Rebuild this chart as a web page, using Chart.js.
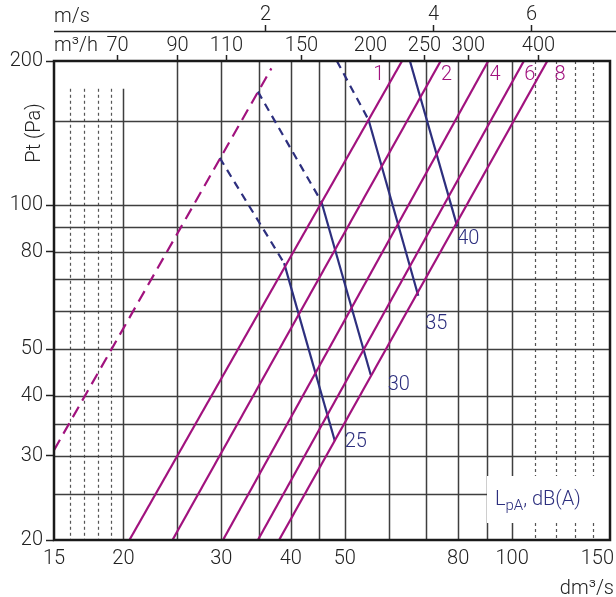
<!DOCTYPE html>
<html>
<head>
<meta charset="utf-8">
<script src="https://cdn.jsdelivr.net/npm/chart.js@4.4.1/dist/chart.umd.min.js"></script>
<style>
html, body { margin: 0; padding: 0; background: #fff; }
</style>
</head>
<body>
<canvas id="myChart" width="616" height="597"></canvas>
<script>
// values (x = dm3/s, y = Pa)
var damperSettings = ['1', '2', '4', '6', '8'];
var flowAt20Pa = [20.5, 24.5, 30.2, 34.9, 38.1];
var flowAt200Pa = [63.4, 74.4, 90.6, 105, 115.7];

var limitFlow = [15, 36.9];
var limitPressure = [30.8, 193];

var soundLevels = [25, 30, 35, 40];
var soundStartFlow = [29.8, 34.9, 48.4, 65.5];
var soundStartPt = [125.5, 172.6, 200, 200];
var soundKneeFlow = [38.9, 45.4, 55.2, 65.5];
var soundKneePt = [75.7, 101.7, 150.6, 200];
var soundEndFlow = [48.0, 55.7, 67.8, 79.7];
var soundEndPt = [32.2, 44.2, 64.7, 90.2];

var xTicks = [15, 20, 30, 40, 50, 80, 100, 150];
var yTicks = [20, 30, 40, 50, 80, 100, 200];
var xGridSolid = [25, 30, 35, 40, 45, 50, 60, 70, 80, 90, 100];
var xGridShort = [20];
var xGridDotShort = [16, 17, 18, 19];
var xGridDot = [110, 120, 130, 140];
var yGrid = [25, 30, 35, 40, 50, 60, 70, 80, 90, 100, 150];
var m3hTicks = [70, 90, 110, 150, 200, 250, 300, 400];
var msTicks = [2, 4, 6];

var magenta = '#a1127e';
var navy = '#2d2f7e';
var FONT = 'Roboto, "DejaVu Sans", sans-serif';

function seg(x1, y1, x2, y2) {
  return [{ x: x1, y: y1 }, { x: x2, y: y2 }];
}

var datasets = [];
damperSettings.forEach(function (s, i) {
  datasets.push({
    label: s,
    data: seg(flowAt20Pa[i], 20, flowAt200Pa[i], 200),
    borderColor: magenta,
    borderWidth: 2.2
  });
});
datasets.push({
  label: 'limit',
  data: seg(limitFlow[0], limitPressure[0], limitFlow[1], limitPressure[1]),
  borderColor: magenta,
  borderWidth: 2.2,
  borderDash: [12, 7]
});
soundLevels.forEach(function (l, i) {
  if (soundKneeFlow[i] !== soundStartFlow[i]) {
    datasets.push({
      label: l + ' dashed',
      data: seg(soundStartFlow[i], soundStartPt[i], soundKneeFlow[i], soundKneePt[i]),
      borderColor: navy,
      borderWidth: 2.2,
      borderDash: [8, 6]
    });
  }
  datasets.push({
    label: String(l),
    data: seg(soundKneeFlow[i], soundKneePt[i], soundEndFlow[i], soundEndPt[i]),
    borderColor: navy,
    borderWidth: 2.2
  });
});

var decor = {
  id: 'decor',
  beforeDatasetsDraw: function (chart) {
    var c = chart.ctx, a = chart.chartArea, sx = chart.scales.x, sy = chart.scales.y;
    c.save();
    function vline(v, top, dash, color, w) {
      var px = Math.round(sx.getPixelForValue(v)) + 0.5;
      c.beginPath();
      c.setLineDash(dash);
      c.strokeStyle = color;
      c.lineWidth = w;
      c.moveTo(px, top);
      c.lineTo(px, a.bottom);
      c.stroke();
    }
    var shortTop = sy.getPixelForValue(175);
    xGridSolid.forEach(function (v) { vline(v, a.top, [], '#3f3f3f', 1.5); });
    xGridShort.forEach(function (v) { vline(v, shortTop, [], '#3f3f3f', 1.5); });
    xGridDotShort.forEach(function (v) { vline(v, shortTop, [3, 3], '#555', 1.2); });
    xGridDot.forEach(function (v) { vline(v, a.top, [3, 3], '#555', 1.2); });
    c.setLineDash([]);
    yGrid.forEach(function (v) {
      var py = Math.round(sy.getPixelForValue(v)) + 0.5;
      c.beginPath();
      c.strokeStyle = '#3f3f3f';
      c.lineWidth = 1.5;
      c.moveTo(a.left, py);
      c.lineTo(a.right, py);
      c.stroke();
    });
    // white box behind the LpA label
    c.fillStyle = '#fff';
    c.fillRect(487, 476, a.right - 488, 47);
    c.restore();
  },
  afterDatasetsDraw: function (chart) {
    var c = chart.ctx, a = chart.chartArea, sx = chart.scales.x, sy = chart.scales.y;
    var W = chart.width;
    c.save();
    // frame
    c.strokeStyle = '#1a1a1a';
    c.lineWidth = 2.5;
    c.strokeRect(a.left, a.top, a.right - a.left, a.bottom - a.top);

    c.font = '300 20px ' + FONT;
    c.fillStyle = '#222';
    c.textBaseline = 'middle';

    // bottom tick labels
    xTicks.forEach(function (v) {
      var t = String(v);
      var w = c.measureText(t).width;
      var px = sx.getPixelForValue(v) - w / 2;
      if (px + w > W - 2) px = W - 2 - w;
      c.textAlign = 'left';
      c.fillText(t, px, a.bottom + 19);
    });
    // x title
    c.textAlign = 'right';
    c.fillText('dm\u00b3/s', W - 2, 589);

    // y title
    c.save();
    c.translate(35, 133);
    c.rotate(-Math.PI / 2);
    c.textAlign = 'center';
    c.fillText('Pt (Pa)', 0, 0);
    c.restore();

    // m3/h row
    c.textAlign = 'left';
    c.fillText('m\u00b3/h', a.left, 46);
    c.strokeStyle = '#222';
    c.lineWidth = 1.5;
    m3hTicks.forEach(function (v) {
      var px = Math.round(sx.getPixelForValue(v / 3.6)) + 0.5;
      c.textAlign = 'center';
      c.fillText(String(v), px, 46);
      c.beginPath();
      c.moveTo(px, 55);
      c.lineTo(px, a.top);
      c.stroke();
    });

    // m/s row
    c.textAlign = 'left';
    c.fillText('m/s', a.left, 17);
    c.beginPath();
    c.moveTo(a.left, 31.5);
    c.lineTo(W, 31.5);
    c.stroke();
    msTicks.forEach(function (v) {
      var px = Math.round(sx.getPixelForValue(v * 18)) + 0.5;
      c.textAlign = 'center';
      c.fillText(String(v), px, 15);
      c.beginPath();
      c.moveTo(px, 25);
      c.lineTo(px, 31.5);
      c.stroke();
    });

    // damper setting labels
    var labDx = [-16, 13, 14, 13, 20];
    c.fillStyle = magenta;
    c.textAlign = 'center';
    damperSettings.forEach(function (s, i) {
      var q = flowAt20Pa[i] * Math.pow(flowAt200Pa[i] / flowAt20Pa[i], Math.log10(188 / 20));
      c.fillText(s, sx.getPixelForValue(q) + labDx[i], 75);
    });

    // sound level labels
    var sDx = [21, 28, 18, 11], sDy = [1, 10, 28, 12];
    c.fillStyle = navy;
    soundLevels.forEach(function (l, i) {
      c.fillText(String(l), sx.getPixelForValue(soundEndFlow[i]) + sDx[i], sy.getPixelForValue(soundEndPt[i]) + sDy[i]);
    });

    // LpA, dB(A)
    c.textAlign = 'left';
    c.textBaseline = 'alphabetic';
    var x0 = 495;
    c.fillText('L', x0, 505);
    x0 += c.measureText('L').width;
    c.font = '300 15px ' + FONT;
    c.fillText('pA', x0, 510);
    x0 += c.measureText('pA').width;
    c.font = '300 20px ' + FONT;
    c.fillText(', dB(A)', x0, 505);
    c.restore();
  }
};

Chart.defaults.font.family = FONT;
Chart.defaults.font.size = 20;
Chart.defaults.font.weight = 300;

var ctx = document.getElementById('myChart').getContext('2d');
var myChart = new Chart(ctx, {
  type: 'line',
  data: { datasets: datasets },
  options: {
    responsive: false,
    animation: false,
    layout: { padding: { top: 61, right: 6, left: 0, bottom: 0 } },
    elements: { point: { radius: 0 }, line: { tension: 0, fill: false } },
    plugins: { legend: { display: false }, tooltip: { enabled: false } },
    scales: {
      x: {
        type: 'logarithmic',
        min: 15,
        max: 150,
        ticks: { display: false },
        grid: { display: false },
        border: { display: false },
        afterFit: function (s) { s.height = 57; s.paddingLeft = 0; s.paddingRight = 0; }
      },
      y: {
        type: 'logarithmic',
        min: 20,
        max: 200,
        afterBuildTicks: function (s) { s.ticks = yTicks.map(function (v) { return { value: v }; }); },
        ticks: {
          color: '#222',
          padding: 3,
          font: { size: 20, weight: 300 },
          callback: function (v) { return String(v); }
        },
        grid: { drawOnChartArea: false, tickLength: 8, tickColor: '#222', tickWidth: 1.5 },
        border: { display: false },
        afterFit: function (s) { s.width = 54; }
      }
    }
  },
  plugins: [decor]
});
</script>
</body>
</html>
